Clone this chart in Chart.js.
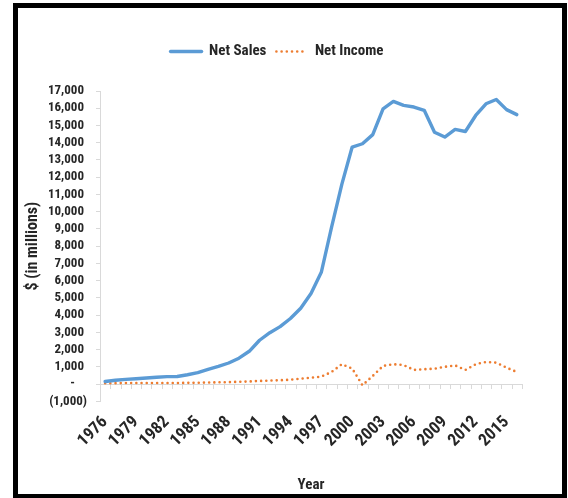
<!DOCTYPE html>
<html>
<head>
<meta charset="utf-8">
<script src="https://cdn.jsdelivr.net/npm/chart.js@4.4.1/dist/chart.umd.min.js"></script>
<style>
  html, body { margin: 0; padding: 0; background: #ffffff; }
  #wrap { position: relative; width: 568px; height: 498px; overflow: hidden; }
  #c { position: absolute; left: 0; top: 0; }
  #frame { position: absolute; left: 13px; top: 3px; width: 544px; height: 486px; border: 5px solid #000; pointer-events: none; }
</style>
</head>
<body>
<div id="wrap">
  <canvas id="c" width="568" height="498"></canvas>
  <div id="frame"></div>
</div>
<script>
const years = [1976,1977,1978,1979,1980,1981,1982,1983,1984,1985,1986,1987,1988,1989,1990,1991,1992,1993,1994,1995,1996,1997,1998,1999,2000,2001,2002,2003,2004,2005,2006,2007,2008,2009,2010,2011,2012,2013,2014,2015,2016];
const netSales = [150,220,270,310,350,390,430,440,540,660,850,1020,1220,1500,1900,2540,2980,3330,3800,4400,5250,6480,9100,11600,13750,13940,14470,15970,16400,16170,16070,15880,14610,14330,14770,14650,15580,16260,16510,15920,15630];
const netIncome = [50,50,60,60,60,60,60,60,70,70,90,100,110,130,150,180,200,220,250,310,370,430,700,1150,900,-70,470,1050,1150,1100,820,860,890,1000,1080,820,1150,1280,1240,950,700];
const yMin = -1000, yMax = 17000, yStep = 1000;
const seriesNames = ['Net Sales', 'Net Income'];
const axisTitles = { x: 'Year', y: '$ (in millions)' };

const FONT = "'Liberation Sans Narrow', 'Roboto Condensed', 'Liberation Sans', sans-serif";
const TXT = '#262626';
const AXIS = '#d9d9d9';

function fmt(v) {
  const a = Math.abs(v).toLocaleString('en-US');
  if (v === 0) return '-    ';
  if (v < 0) return '(' + a + ')';
  return a + ' ';
}

const legendMargin = {
  id: 'legendMargin',
  beforeInit(chart) {
    const orig = chart.legend.fit;
    chart.legend.fit = function () { orig.bind(chart.legend)(); this.height += 22; };
  }
};

const zeroTicks = {
  id: 'zeroTicks',
  beforeDatasetsDraw(chart) {
    const x = chart.scales.x, y = chart.scales.y;
    const y0 = y.getPixelForValue(0);
    const ctx = chart.ctx;
    ctx.save();
    ctx.strokeStyle = AXIS;
    ctx.lineWidth = 1;
    ctx.beginPath();
    for (let i = 0; i <= years.length; i++) {
      const px = Math.round(x.getPixelForValue(i - 0.5)) + 0.5;
      ctx.moveTo(px, y0);
      ctx.lineTo(px, y0 + 5);
    }
    ctx.stroke();
    ctx.restore();
  }
};

new Chart(document.getElementById('c'), {
  type: 'line',
  data: {
    labels: years,
    datasets: [
      {
        label: seriesNames[0],
        data: netSales,
        borderColor: '#5b9bd5',
        backgroundColor: '#5b9bd5',
        borderWidth: 3.4,
        pointRadius: 0,
        tension: 0,
        borderJoinStyle: 'round',
        borderCapStyle: 'round'
      },
      {
        label: seriesNames[1],
        data: netIncome,
        borderColor: '#ed7d31',
        backgroundColor: 'transparent',
        borderWidth: 2.6,
        borderDash: [0, 5.2],
        borderCapStyle: 'round',
        pointRadius: 0,
        tension: 0
      }
    ]
  },
  options: {
    responsive: false,
    animation: false,
    devicePixelRatio: 1,
    layout: { padding: { left: 32, right: 46, top: 34, bottom: 0 } },
    plugins: {
      legend: {
        position: 'top',
        labels: {
          usePointStyle: true,
          pointStyle: 'line',
          pointStyleWidth: 31,
          boxHeight: 3,
          padding: 10,
          color: TXT,
          font: { family: FONT, size: 15, weight: 'bold' },
          generateLabels(chart) {
            const items = Chart.defaults.plugins.legend.labels.generateLabels(chart);
            items.forEach((it) => {
              const ds = chart.data.datasets[it.datasetIndex];
              it.lineDash = ds.borderDash || [];
              it.lineCap = ds.borderCapStyle || 'butt';
              it.lineWidth = ds.borderWidth;
              it.strokeStyle = ds.borderColor;
              it.pointStyle = 'line';
            });
            return items;
          }
        }
      },
      tooltip: { enabled: false }
    },
    scales: {
      x: {
        type: 'category',
        offset: true,
        grid: { display: false },
        border: { display: false },
        ticks: {
          autoSkip: false,
          maxRotation: 45,
          minRotation: 45,
          padding: 3,
          color: TXT,
          font: { family: FONT, size: 17, weight: 'bold' },
          callback: function (val, idx) { return idx % 3 === 0 ? this.getLabelForValue(val) : ''; }
        },
        title: {
          display: true,
          text: axisTitles.x,
          color: TXT,
          font: { family: FONT, size: 15, weight: 'bold' },
          padding: { top: 22, bottom: 4 }
        }
      },
      y: {
        min: yMin,
        max: yMax,
        afterFit(s) { s.width = 68; },
        grid: {
          drawOnChartArea: true,
          color: (c) => (c.tick && c.tick.value === 0 ? AXIS : 'rgba(0,0,0,0)'),
          tickColor: AXIS,
          tickLength: 4
        },
        border: { display: true, color: AXIS },
        ticks: {
          stepSize: yStep,
          autoSkip: false,
          padding: 9,
          color: TXT,
          font: { family: FONT, size: 13, weight: 'bold' },
          callback: (v) => fmt(v)
        },
        title: {
          display: true,
          text: axisTitles.y,
          color: TXT,
          font: { family: FONT, size: 16, weight: 'bold' },
          padding: { top: -9, bottom: 4 }
        }
      }
    }
  },
  plugins: [legendMargin, zeroTicks]
});
</script>
</body>
</html>
